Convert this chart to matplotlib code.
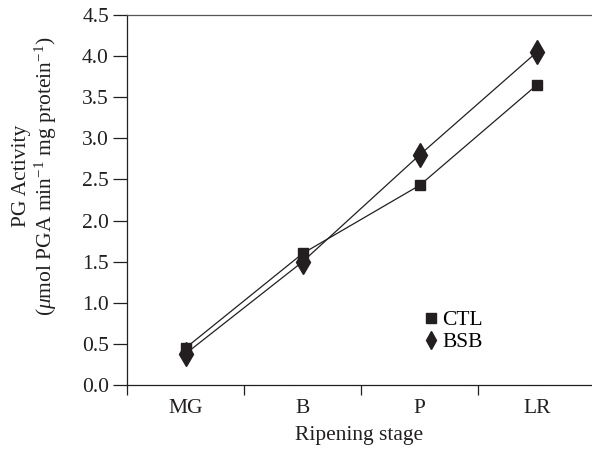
import matplotlib
matplotlib.use('Agg')
from matplotlib import pyplot as plt

plt.rcParams['font.family'] = ['Liberation Serif', 'DejaVu Serif']
plt.rcParams['mathtext.fontset'] = 'custom'
plt.rcParams['mathtext.rm'] = 'Liberation Serif'
plt.rcParams['mathtext.it'] = 'Liberation Serif:italic'

stages = ['MG', 'B', 'P', 'LR']
ctl = [0.45, 1.60, 2.43, 3.65]
bsb = [0.38, 1.50, 2.80, 4.05]
ink = '#231f20'
fs = 15.5

fig = plt.figure(figsize=(5.92, 4.51), dpi=100)
ax = fig.add_axes([0.2145, 0.1463, 0.7855, 0.8204])

x = range(len(stages))
ax.plot(x, ctl, color=ink, lw=0.9, marker='s', ms=7, label='CTL')
ax.plot(x, bsb, color=ink, lw=0.9, marker='d', ms=12, label='BSB')

ax.set_xlim(-0.5, 3.47)
ax.set_ylim(0, 4.5)
ax.set_yticks([i * 0.5 for i in range(10)])
ax.set_yticklabels(['%.1f' % (i * 0.5) for i in range(10)])
ax.set_xticks([-0.5, 0.5, 1.5, 2.5])
ax.set_xticklabels([])
ax.set_xticks(list(x), minor=True)
ax.set_xticklabels(stages, minor=True)
ax.tick_params(axis='x', which='minor', length=0, pad=10, labelsize=fs, labelcolor=ink)
ax.tick_params(axis='x', which='major', direction='out', length=7, width=0.9, color=ink)
ax.tick_params(axis='y', direction='out', length=10, width=0.9, color=ink, pad=3,
               labelsize=fs, labelcolor=ink)

ax.spines['right'].set_visible(False)
ax.spines['top'].set_color('#555555')
ax.spines['top'].set_linewidth(0.9)
for s in ['left', 'bottom']:
    ax.spines[s].set_linewidth(0.9)
    ax.spines[s].set_color(ink)

ax.set_xlabel('Ripening stage', fontsize=fs, color=ink, labelpad=6)
ax.set_ylabel('PG Activity\n($\\mathit{\\mu}$mol PGA min$^{-1}$ mg protein$^{-1}$)',
              fontsize=fs, color=ink, linespacing=1.05)
ax.yaxis.set_label_coords(-0.147, 0.565)

leg = ax.legend(loc='upper left', bbox_to_anchor=(0.6, 0.255), frameon=False,
                fontsize=fs, handlelength=0.5, handletextpad=0.3,
                labelspacing=0.1, numpoints=1)
for line in leg.get_lines():
    line.set_linestyle('none')
leg.get_lines()[0].set_markersize(6.5)
leg.get_lines()[1].set_markersize(9)

fig.savefig('out.png', dpi=100)
